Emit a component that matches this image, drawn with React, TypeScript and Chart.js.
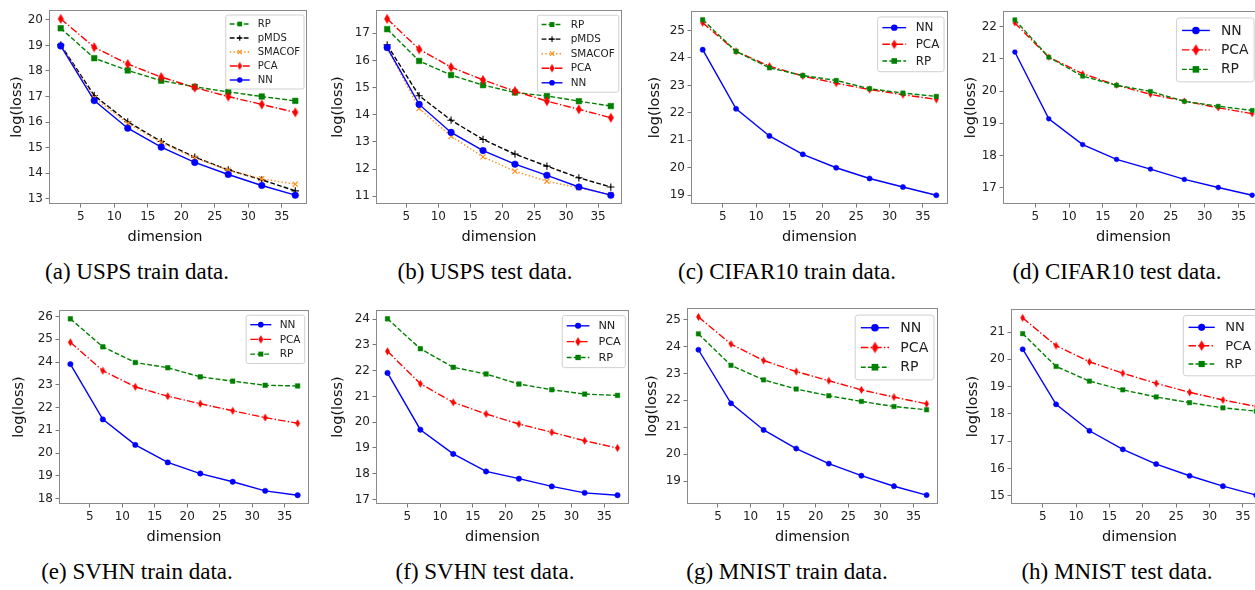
import React, { useEffect, useRef } from "react";
import { Chart, registerables } from "chart.js";
Chart.register(...registerables);

// ---------- data ----------
const dims = [2, 7, 12, 17, 22, 27, 32, 37];
const xTickValues = [5, 10, 15, 20, 25, 30, 35];

// (a) USPS train
const uspsTrainRP = [19.67, 18.5, 18.02, 17.62, 17.38, 17.18, 17.0, 16.83];
const uspsTrainPMDS = [19.02, 17.04, 16.01, 15.24, 14.63, 14.13, 13.74, 13.31];
const uspsTrainSMACOF = [19.0, 16.95, 15.95, 15.2, 14.6, 14.12, 13.78, 13.57];
const uspsTrainPCA = [20.04, 18.93, 18.27, 17.76, 17.35, 17.0, 16.69, 16.38];
const uspsTrainNN = [18.98, 16.84, 15.76, 15.02, 14.42, 13.95, 13.52, 13.14];
const uspsTrainYTicks = [13, 14, 15, 16, 17, 18, 19, 20];

// (b) USPS test
const uspsTestRP = [17.15, 15.98, 15.46, 15.09, 14.82, 14.69, 14.5, 14.32];
const uspsTestPMDS = [16.57, 14.7, 13.8, 13.09, 12.55, 12.11, 11.68, 11.34];
const uspsTestSMACOF = [16.45, 14.23, 13.21, 12.45, 11.92, 11.55, 11.31, 11.06];
const uspsTestPCA = [17.53, 16.41, 15.75, 15.28, 14.87, 14.5, 14.2, 13.89];
const uspsTestNN = [16.47, 14.38, 13.35, 12.68, 12.18, 11.77, 11.34, 11.04];
const uspsTestYTicks = [11, 12, 13, 14, 15, 16, 17];

// (c) CIFAR10 train
const cifarTrainNN = [24.3, 22.15, 21.16, 20.49, 20.0, 19.61, 19.3, 19.0];
const cifarTrainPCA = [25.28, 24.24, 23.7, 23.34, 23.08, 22.85, 22.66, 22.49];
const cifarTrainRP = [25.39, 24.24, 23.64, 23.36, 23.18, 22.88, 22.72, 22.6];
const cifarTrainYTicks = [19, 20, 21, 22, 23, 24, 25];

// (d) CIFAR10 test
const cifarTestNN = [21.21, 19.14, 18.34, 17.88, 17.58, 17.26, 17.01, 16.77];
const cifarTestPCA = [22.11, 21.05, 20.54, 20.18, 19.9, 19.69, 19.48, 19.3];
const cifarTestRP = [22.21, 21.05, 20.46, 20.18, 19.99, 19.68, 19.53, 19.4];
const cifarTestYTicks = [17, 18, 19, 20, 21, 22];

// (e) SVHN train
const svhnTrainNN = [23.91, 21.48, 20.36, 19.59, 19.1, 18.74, 18.34, 18.15];
const svhnTrainPCA = [24.87, 23.62, 22.91, 22.5, 22.17, 21.86, 21.56, 21.31];
const svhnTrainRP = [25.9, 24.67, 23.98, 23.75, 23.35, 23.16, 22.98, 22.95];
const svhnTrainYTicks = [18, 19, 20, 21, 22, 23, 24, 25, 26];

// (f) SVHN test
const svhnTestNN = [21.91, 19.71, 18.77, 18.09, 17.81, 17.51, 17.26, 17.17];
const svhnTestPCA = [22.75, 21.49, 20.77, 20.32, 19.93, 19.61, 19.28, 19.0];
const svhnTestRP = [24.01, 22.85, 22.13, 21.87, 21.48, 21.26, 21.09, 21.04];
const svhnTestYTicks = [17, 18, 19, 20, 21, 22, 23, 24];

// (g) MNIST train
const mnistTrainNN = [23.88, 21.89, 20.9, 20.21, 19.65, 19.2, 18.81, 18.48];
const mnistTrainPCA = [25.1, 24.09, 23.48, 23.07, 22.73, 22.39, 22.12, 21.87];
const mnistTrainRP = [24.47, 23.3, 22.76, 22.42, 22.17, 21.96, 21.77, 21.65];
const mnistTrainYTicks = [19, 20, 21, 22, 23, 24, 25];

// (h) MNIST test
const mnistTestNN = [20.37, 18.35, 17.38, 16.7, 16.16, 15.73, 15.35, 15.02];
const mnistTestPCA = [21.52, 20.5, 19.91, 19.49, 19.12, 18.79, 18.51, 18.27];
const mnistTestRP = [20.94, 19.74, 19.2, 18.88, 18.62, 18.41, 18.22, 18.1];
const mnistTestYTicks = [15, 16, 17, 18, 19, 20, 21];

const captions = [
  "(a) USPS train data.",
  "(b) USPS test data.",
  "(c) CIFAR10 train data.",
  "(d) CIFAR10 test data.",
  "(e) SVHN train data.",
  "(f) SVHN test data.",
  "(g) MNIST train data.",
  "(h) MNIST test data.",
];

type Kind = "NN" | "PCA" | "RP" | "pMDS" | "SMACOF";
type Series = { kind: Kind; values: number[] };

// plot order (= legend order)
const panelSeries: Series[][] = [
  [
    { kind: "RP", values: uspsTrainRP },
    { kind: "pMDS", values: uspsTrainPMDS },
    { kind: "SMACOF", values: uspsTrainSMACOF },
    { kind: "PCA", values: uspsTrainPCA },
    { kind: "NN", values: uspsTrainNN },
  ],
  [
    { kind: "RP", values: uspsTestRP },
    { kind: "pMDS", values: uspsTestPMDS },
    { kind: "SMACOF", values: uspsTestSMACOF },
    { kind: "PCA", values: uspsTestPCA },
    { kind: "NN", values: uspsTestNN },
  ],
  [
    { kind: "NN", values: cifarTrainNN },
    { kind: "PCA", values: cifarTrainPCA },
    { kind: "RP", values: cifarTrainRP },
  ],
  [
    { kind: "NN", values: cifarTestNN },
    { kind: "PCA", values: cifarTestPCA },
    { kind: "RP", values: cifarTestRP },
  ],
  [
    { kind: "NN", values: svhnTrainNN },
    { kind: "PCA", values: svhnTrainPCA },
    { kind: "RP", values: svhnTrainRP },
  ],
  [
    { kind: "NN", values: svhnTestNN },
    { kind: "PCA", values: svhnTestPCA },
    { kind: "RP", values: svhnTestRP },
  ],
  [
    { kind: "NN", values: mnistTrainNN },
    { kind: "PCA", values: mnistTrainPCA },
    { kind: "RP", values: mnistTrainRP },
  ],
  [
    { kind: "NN", values: mnistTestNN },
    { kind: "PCA", values: mnistTestPCA },
    { kind: "RP", values: mnistTestRP },
  ],
];

const panelYTicks = [
  uspsTrainYTicks,
  uspsTestYTicks,
  cifarTrainYTicks,
  cifarTestYTicks,
  svhnTrainYTicks,
  svhnTestYTicks,
  mnistTrainYTicks,
  mnistTestYTicks,
];

// ---------- layout (page pixels) ----------
type Layout = {
  frame: [number, number, number, number];
  yTitleX: number;
  xTitleX: number | null;
  xTitleY: number;
  legendFs: number;
  legendDx: number;
  markerR: number;
  capX: number;
  capY: number;
};
const layouts: Layout[] = [
  { frame: [49, 10, 307, 204], yTitleX: 17.5, xTitleX: 165, xTitleY: 237, legendFs: 10, legendDx: 2, markerR: 3.3, capX: 137, capY: 272 },
  { frame: [376, 10, 622, 204], yTitleX: 338.5, xTitleX: null, xTitleY: 237, legendFs: 10.4, legendDx: 2, markerR: 3.3, capX: 485, capY: 272 },
  { frame: [691, 11, 948, 204], yTitleX: 656, xTitleX: null, xTitleY: 237, legendFs: 11.9, legendDx: 2, markerR: 2.6, capX: 787, capY: 272 },
  { frame: [1003, 11, 1264, 204], yTitleX: 972, xTitleX: null, xTitleY: 237, legendFs: 13.9, legendDx: -3, markerR: 2.4, capX: 1117, capY: 272 },
  { frame: [59, 310, 309, 504], yTitleX: 20, xTitleX: null, xTitleY: 537, legendFs: 10.5, legendDx: 1, markerR: 2.7, capX: 137, capY: 572 },
  { frame: [376, 310, 629, 504], yTitleX: 338.5, xTitleX: null, xTitleY: 537, legendFs: 11.3, legendDx: 2, markerR: 2.7, capX: 485, capY: 572 },
  { frame: [687, 308, 938, 504], yTitleX: 652.5, xTitleX: null, xTitleY: 537, legendFs: 14.1, legendDx: 3, markerR: 2.6, capX: 787, capY: 572 },
  { frame: [1011, 309, 1268, 504], yTitleX: 973.5, xTitleX: null, xTitleY: 537, legendFs: 13.1, legendDx: -5, markerR: 2.6, capX: 1117, capY: 572 },
];

const FONT = "DejaVu Sans";
const TITLE_FS = 14.5;
const TICK_FS = 12;
const LW = 1.4;

const KIND_STYLE: Record<Kind, { color: string; dash: number[] }> = {
  NN: { color: "#0000ff", dash: [] },
  PCA: { color: "#ff0000", dash: [7.5, 2.2, 1.4, 2.2] },
  RP: { color: "#008000", dash: [4.8, 2.2] },
  pMDS: { color: "#000000", dash: [4.8, 2.2] },
  SMACOF: { color: "#ff8c1a", dash: [1.4, 2.2] },
};

function thinDiamond(r: number, color: string): HTMLCanvasElement {
  const h = r * 3.0;
  const w = h * 0.6;
  const c = document.createElement("canvas");
  c.width = Math.ceil(w) + 2;
  c.height = Math.ceil(h) + 2;
  const ctx = c.getContext("2d")!;
  const cx = c.width / 2;
  const cy = c.height / 2;
  ctx.fillStyle = color;
  ctx.beginPath();
  ctx.moveTo(cx, cy - h / 2);
  ctx.lineTo(cx + w / 2, cy);
  ctx.lineTo(cx, cy + h / 2);
  ctx.lineTo(cx - w / 2, cy);
  ctx.closePath();
  ctx.fill();
  return c;
}

function drawMarker(ctx: CanvasRenderingContext2D, kind: Kind, x: number, y: number, r: number) {
  const col = KIND_STYLE[kind].color;
  ctx.save();
  ctx.setLineDash([]);
  ctx.fillStyle = col;
  ctx.strokeStyle = col;
  if (kind === "NN") {
    ctx.beginPath();
    ctx.arc(x, y, r, 0, Math.PI * 2);
    ctx.fill();
  } else if (kind === "RP") {
    const s = r * 1.75;
    ctx.fillRect(x - s / 2, y - s / 2, s, s);
  } else if (kind === "PCA") {
    const img = thinDiamond(r, col);
    ctx.drawImage(img, x - img.width / 2, y - img.height / 2);
  } else if (kind === "pMDS") {
    ctx.lineWidth = 1.1;
    ctx.beginPath();
    ctx.moveTo(x - r, y);
    ctx.lineTo(x + r, y);
    ctx.moveTo(x, y - r);
    ctx.lineTo(x, y + r);
    ctx.stroke();
  } else {
    ctx.lineWidth = 1.1;
    const d = r * 0.8;
    ctx.beginPath();
    ctx.moveTo(x - d, y - d);
    ctx.lineTo(x + d, y + d);
    ctx.moveTo(x - d, y + d);
    ctx.lineTo(x + d, y - d);
    ctx.stroke();
  }
  ctx.restore();
}

const frameLegendPlugin = {
  id: "frameLegend",
  afterDraw(chart: any, _args: any, opts: any) {
    const ctx: CanvasRenderingContext2D = chart.ctx;
    const a = chart.chartArea;
    ctx.save();
    // frame
    ctx.strokeStyle = "#8a8a8a";
    ctx.lineWidth = 1;
    ctx.strokeRect(
      Math.round(a.left) + 0.5,
      Math.round(a.top) + 0.5,
      Math.round(a.right - a.left) - 1,
      Math.round(a.bottom - a.top) - 1
    );
    // x axis title
    ctx.fillStyle = "#111";
    ctx.font = `${TITLE_FS}px "${FONT}"`;
    ctx.textAlign = "center";
    ctx.textBaseline = "middle";
    const tx = opts.xTitleX === null ? (a.left + a.right) / 2 : opts.xTitleX;
    ctx.fillText("dimension", tx, opts.xTitleY);
    // legend
    const kinds: Kind[] = opts.kinds;
    const fs: number = opts.fs;
    const mr: number = opts.mr;
    ctx.font = `${fs}px "${FONT}"`;
    let tw = 0;
    kinds.forEach((k) => (tw = Math.max(tw, ctx.measureText(k).width)));
    const pad = 0.4 * fs;
    const row = 1.4 * fs;
    const bw = pad + 2 * fs + 0.8 * fs + tw + pad;
    const bh = 2 * pad + (kinds.length - 1) * row + fs;
    const bx = a.right - 0.5 * fs - bw + opts.dx;
    const by = a.top + 0.5 * fs;
    ctx.fillStyle = "rgba(255,255,255,0.85)";
    ctx.strokeStyle = "#d0d0d0";
    ctx.lineWidth = 1;
    const rr = 0.2 * fs;
    ctx.beginPath();
    ctx.moveTo(bx + rr, by);
    ctx.lineTo(bx + bw - rr, by);
    ctx.quadraticCurveTo(bx + bw, by, bx + bw, by + rr);
    ctx.lineTo(bx + bw, by + bh - rr);
    ctx.quadraticCurveTo(bx + bw, by + bh, bx + bw - rr, by + bh);
    ctx.lineTo(bx + rr, by + bh);
    ctx.quadraticCurveTo(bx, by + bh, bx, by + bh - rr);
    ctx.lineTo(bx, by + rr);
    ctx.quadraticCurveTo(bx, by, bx + rr, by);
    ctx.closePath();
    ctx.fill();
    ctx.stroke();
    kinds.forEach((k, i) => {
      const y = by + pad + fs / 2 + i * row;
      const x0 = bx + pad;
      const x1 = x0 + 2 * fs;
      const st = KIND_STYLE[k];
      ctx.save();
      ctx.strokeStyle = st.color;
      ctx.lineWidth = LW;
      ctx.setLineDash(st.dash);
      ctx.beginPath();
      ctx.moveTo(x0, y);
      ctx.lineTo(x1, y);
      ctx.stroke();
      ctx.restore();
      drawMarker(ctx, k, (x0 + x1) / 2, y, mr);
      ctx.fillStyle = "#222";
      ctx.textBaseline = "middle";
      ctx.textAlign = "left";
      ctx.font = `${fs}px "${FONT}"`;
      ctx.fillText(k, x1 + 0.8 * fs, y + 0.5);
    });
    ctx.restore();
  },
};

function Panel({ idx }: { idx: number }) {
  const ref = useRef<HTMLCanvasElement>(null);
  const L = layouts[idx];
  const [fl, ft, fr, fb] = L.frame;
  const canvasLeft = Math.round(L.yTitleX - TITLE_FS * 0.6);
  const canvasTop = ft - 12;
  const canvasRight = fr + 12;
  const canvasBottom = Math.round(L.xTitleY + TITLE_FS * 0.6);
  const W = canvasRight - canvasLeft;
  const H = canvasBottom - canvasTop;
  const yW = fl - canvasLeft;
  const xH = canvasBottom - fb;

  useEffect(() => {
    const series = panelSeries[idx];
    const yTicks = panelYTicks[idx];
    const all = series.flatMap((s) => s.values);
    const lo = Math.min(...all);
    const hi = Math.max(...all);
    const m = (hi - lo) * 0.05;
    const xm = (dims[dims.length - 1] - dims[0]) * 0.05;
    const r = L.markerR;
    const datasets = series
      .slice()
      .reverse()
      .map((s) => {
        const st = KIND_STYLE[s.kind];
        let pointStyle: any = "circle";
        let radius = r;
        let bw = 0.5;
        if (s.kind === "RP") {
          pointStyle = "rect";
          radius = r * 1.2;
        } else if (s.kind === "PCA") {
          pointStyle = thinDiamond(r, st.color);
        } else if (s.kind === "pMDS") {
          pointStyle = "cross";
          radius = r * 1.1;
          bw = 1.1;
        } else if (s.kind === "SMACOF") {
          pointStyle = "crossRot";
          radius = r * 1.1;
          bw = 1.1;
        }
        return {
          label: s.kind,
          data: dims.map((d, i) => ({ x: d, y: s.values[i] })),
          borderColor: st.color,
          backgroundColor: st.color,
          borderWidth: LW,
          borderDash: st.dash,
          pointStyle,
          pointRadius: radius,
          pointBorderWidth: bw,
          pointBackgroundColor: st.color,
          pointBorderColor: st.color,
          tension: 0,
          clip: false as any,
        };
      });
    const chart = new Chart(ref.current!, {
      type: "line",
      data: { datasets },
      options: {
        responsive: false,
        animation: false,
        devicePixelRatio: 1,
        layout: { padding: { top: 12, right: 12, left: 0, bottom: 0 } },
        plugins: {
          legend: { display: false },
          tooltip: { enabled: false },
          frameLegend: {
            kinds: series.map((s) => s.kind),
            fs: L.legendFs,
            mr: L.legendFs * 0.27,
            dx: L.legendDx,
            xTitleX: L.xTitleX === null ? null : L.xTitleX - canvasLeft,
            xTitleY: L.xTitleY - canvasTop,
          },
        } as any,
        scales: {
          x: {
            type: "linear",
            min: dims[0] - xm,
            max: dims[dims.length - 1] + xm,
            afterFit: (s: any) => {
              s.height = xH;
            },
            afterBuildTicks: (s: any) => {
              s.ticks = xTickValues.map((v) => ({ value: v }));
            },
            ticks: {
              autoSkip: false,
              maxRotation: 0,
              padding: 2,
              color: "#222",
              font: { family: FONT, size: TICK_FS },
              callback: (v: any) => String(v),
            },
            grid: { display: true, drawOnChartArea: false, drawTicks: true, tickLength: 3.5, tickColor: "#777" },
            border: { display: false },
            title: { display: false },
          },
          y: {
            type: "linear",
            min: lo - m,
            max: hi + m,
            afterFit: (s: any) => {
              s.width = yW;
            },
            afterBuildTicks: (s: any) => {
              s.ticks = yTicks.map((v) => ({ value: v }));
            },
            ticks: {
              autoSkip: false,
              padding: 2.5,
              color: "#222",
              font: { family: FONT, size: TICK_FS },
              callback: (v: any) => String(v),
            },
            grid: { display: true, drawOnChartArea: false, drawTicks: true, tickLength: 3.5, tickColor: "#777" },
            border: { display: false },
            title: {
              display: true,
              text: "log(loss)",
              color: "#111",
              padding: 0,
              font: { family: FONT, size: TITLE_FS, lineHeight: 1.2 },
            },
          },
        },
      },
      plugins: [frameLegendPlugin as any],
    });
    return () => chart.destroy();
  }, [idx]);

  return (
    <canvas
      ref={ref}
      width={W}
      height={H}
      style={{ position: "absolute", left: canvasLeft, top: canvasTop, width: W, height: H }}
    />
  );
}

export default function App() {
  return (
    <div
      style={{
        position: "absolute",
        left: 0,
        top: 0,
        width: 1255,
        height: 590,
        overflow: "hidden",
        background: "#fff",
      }}
    >
      {layouts.map((_, i) => (
        <Panel key={i} idx={i} />
      ))}
      {layouts.map((L, i) => (
        <div
          key={"c" + i}
          style={{
            position: "absolute",
            left: L.capX - 200,
            width: 400,
            top: L.capY - 14,
            height: 28,
            lineHeight: "28px",
            textAlign: "center",
            fontFamily: '"Liberation Serif", serif',
            fontSize: 23,
            color: "#000",
            whiteSpace: "nowrap",
          }}
        >
          {captions[i]}
        </div>
      ))}
    </div>
  );
}
